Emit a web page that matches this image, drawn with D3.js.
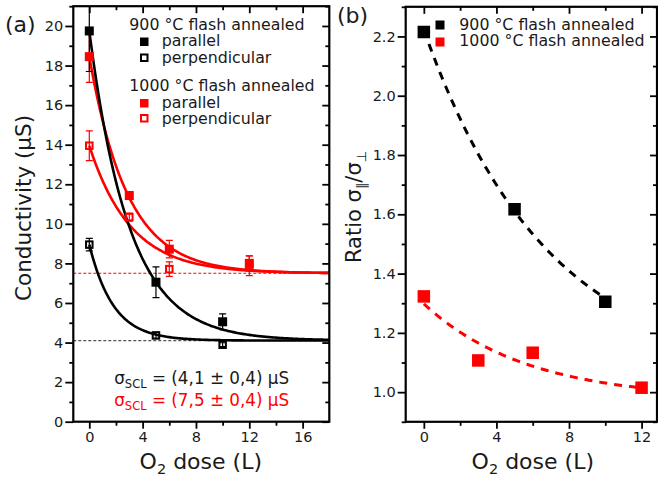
<!DOCTYPE html>
<html><head><meta charset="utf-8">
<script src="https://cdn.jsdelivr.net/npm/d3@7"></script>
<style>
body{margin:0;background:#fff}
svg{display:block}
text{font-family:"DejaVu Sans",sans-serif}
</style>
</head><body>
<svg id="c" width="658" height="480"></svg>
<script>
// ---------- data (panel a) ----------
const dose900 = [0, 5, 10];
const par900 = [19.75, 7.05, 5.05];
const par900Err = [2.05, 0.78, 0.4];
const perp900 = [8.95, 4.36, 3.89];
const perp900Err = [0.32, 0.15, 0.1];
const dose1000 = [0, 3, 6, 12];
const par1000 = [18.45, 11.43, 8.72, 8.0];
const par1000Err = [1.3, 0.2, 0.44, 0.38];
const perp1000 = [13.95, 10.34, 7.71, 7.88];
const perp1000Err = [0.75, 0.2, 0.37, 0.5];
const sigmaSCL = [4.1, 7.5];
// exponential fit decay constants (L): sigma = sigmaSCL + (sigma0 - sigmaSCL) exp(-dose/tau)
const tauFit = [3.0, 1.8, 2.85, 3.1]; // par900, perp900, par1000, perp1000
// ---------- data (panel b) ----------
const ratio900 = [2.215, 1.617, 1.305];
const ratio1000 = [1.323, 1.107, 1.133, 1.015];
// ratio fits: [offset, amplitude, tau]
const ratioFit900 = [1.047, 1.175, 6.8];
const ratioFit1000 = [0.975, 0.323, 5.7];
// ---------- ticks ----------
const aYMajor = [0,2,4,6,8,10,12,14,16,18,20];
const aYMinor = [1,3,5,7,9,11,13,15,17,19,21];
const aXMajor = [0,4,8,12,16];
const aXMinor = [2,6,10,14];
const bYMajor = [1.0,1.2,1.4,1.6,1.8,2.0,2.2];
const bYMinor = [0.9,1.1,1.3,1.5,1.7,1.9,2.1,2.3];
const bXMajor = [0,4,8,12];
const bXMinor = [2,6,10];

const RED = "#ff0000", BLK = "#000000";
const svg = d3.select("#c");

function frameAxes(g, x, y, xMaj, xMin, yMaj, yMin, yFmt) {
  const [x0, x1] = x.range(), [y0, y1] = y.range();
  const st = sel => { sel.select(".domain").remove(); sel.selectAll("line").attr("stroke","#000").attr("stroke-width",1.8);
    sel.selectAll("text").attr("font-size",14.5).attr("fill","#1a1a1a").attr("font-family","DejaVu Sans"); };
  g.append("g").attr("transform",`translate(0,${y0})`).call(d3.axisBottom(x).tickValues(xMaj).tickSize(7).tickPadding(3).tickFormat(d3.format("d"))).call(st);
  g.append("g").attr("transform",`translate(0,${y0})`).call(d3.axisBottom(x).tickValues(xMin).tickSize(4).tickFormat("")).call(st);
  g.append("g").attr("transform",`translate(0,${y1})`).call(d3.axisTop(x).tickValues(xMaj).tickSize(-7).tickFormat("")).call(st);
  g.append("g").attr("transform",`translate(0,${y1})`).call(d3.axisTop(x).tickValues(xMin).tickSize(-4).tickFormat("")).call(st);
  g.append("g").attr("transform",`translate(${x0},0)`).call(d3.axisLeft(y).tickValues(yMaj).tickSize(8).tickPadding(2).tickFormat(yFmt)).call(st);
  g.append("g").attr("transform",`translate(${x0},0)`).call(d3.axisLeft(y).tickValues(yMin).tickSize(4).tickFormat("")).call(st);
  g.append("g").attr("transform",`translate(${x1},0)`).call(d3.axisRight(y).tickValues(yMaj).tickSize(-7).tickFormat("")).call(st);
  g.append("g").attr("transform",`translate(${x1},0)`).call(d3.axisRight(y).tickValues(yMin).tickSize(-4).tickFormat("")).call(st);
  g.append("rect").attr("x",x0).attr("y",y1).attr("width",x1-x0).attr("height",y0-y1)
    .attr("fill","none").attr("stroke","#000").attr("stroke-width",2.2);
}

// ================= panel a =================
const xa = d3.scaleLinear().domain([-1.2, 18]).range([73.3, 329.3]);
const ya = d3.scaleLinear().domain([0, 21]).range([421.7, 6.2]);
const ga = svg.append("g");
svg.append("clipPath").attr("id","clipA").append("rect")
  .attr("x",73.3).attr("y",6.2).attr("width",256).attr("height",415.5);
const pa = ga.append("g").attr("clip-path","url(#clipA)");

// sigma_SCL reference lines
pa.append("line").attr("x1",xa(-1.2)).attr("x2",xa(18)).attr("y1",ya(sigmaSCL[0])).attr("y2",ya(sigmaSCL[0]))
  .attr("stroke","#555").attr("stroke-width",1.3).attr("stroke-dasharray","3,2");
pa.append("line").attr("x1",xa(-1.2)).attr("x2",xa(18)).attr("y1",ya(sigmaSCL[1])).attr("y2",ya(sigmaSCL[1]))
  .attr("stroke",RED).attr("stroke-width",1.1).attr("stroke-dasharray","3,2");

const fitX = d3.range(0, 18.01, 0.1);
const fitLine = d3.line().x(d=>xa(d[0])).y(d=>ya(d[1]));
function drawFit(s0, scl, tau, col) {
  pa.append("path").attr("d", fitLine(fitX.map(x=>[x, scl + (s0-scl)*Math.exp(-x/tau)])))
    .attr("fill","none").attr("stroke",col).attr("stroke-width",2.6);
}
drawFit(par1000[0], sigmaSCL[1], tauFit[2], RED);
drawFit(perp1000[0], sigmaSCL[1], tauFit[3], RED);
drawFit(par900[0], sigmaSCL[0], tauFit[0], BLK);
drawFit(perp900[0], sigmaSCL[0], tauFit[1], BLK);

function errBars(xs, ys, es, col) {
  xs.forEach((d,i)=>{
    const cx = xa(d), yt = ya(ys[i]+es[i]), yb = ya(ys[i]-es[i]);
    pa.append("line").attr("x1",cx).attr("x2",cx).attr("y1",yt).attr("y2",yb).attr("stroke",col).attr("stroke-width",1.2);
    [yt,yb].forEach(yy=>pa.append("line").attr("x1",cx-3.5).attr("x2",cx+3.5).attr("y1",yy).attr("y2",yy).attr("stroke",col).attr("stroke-width",1.2));
  });
}
function squares(g, xs, ys, xs_, ys_, col, filled, size) {
  xs.forEach((d,i)=>{
    if (filled) g.append("rect").attr("x",xs_(d)-size/2).attr("y",ys_(ys[i])-size/2).attr("width",size).attr("height",size).attr("fill",col);
    else g.append("rect").attr("x",xs_(d)-size/2+1).attr("y",ys_(ys[i])-size/2+1).attr("width",size-2).attr("height",size-2)
      .attr("fill","none").attr("stroke",col).attr("stroke-width",2);
  });
}
errBars(dose1000, perp1000, perp1000Err, RED);
errBars(dose1000, par1000, par1000Err, RED);
errBars(dose900, perp900, perp900Err, BLK);
errBars(dose900, par900, par900Err, BLK);
squares(pa, dose1000, perp1000, xa, ya, RED, false, 8.5);
squares(pa, dose1000, par1000, xa, ya, RED, true, 9);
squares(pa, dose900, perp900, xa, ya, BLK, false, 8.5);
squares(pa, dose900, par900, xa, ya, BLK, true, 9);

frameAxes(ga, xa, ya, aXMajor, aXMinor, aYMajor, aYMinor, d3.format("d"));

// legend a
const lg = ga.append("g").attr("font-size",15.8).attr("fill","#1a1a1a");
lg.append("text").attr("x",129.3).attr("y",29.5).text("900 °C flash annealed");
lg.append("rect").attr("x",140).attr("y",37.5).attr("width",8.5).attr("height",8.5).attr("fill",BLK);
lg.append("text").attr("x",161.7).attr("y",46).text("parallel");
lg.append("rect").attr("x",141).attr("y",54.5).attr("width",6.5).attr("height",6.5).attr("fill","none").attr("stroke",BLK).attr("stroke-width",2);
lg.append("text").attr("x",161.7).attr("y",62.5).text("perpendicular");
lg.append("text").attr("x",129.3).attr("y",90.5).text("1000 °C flash annealed");
lg.append("rect").attr("x",140).attr("y",99).attr("width",8.5).attr("height",8.5).attr("fill",RED);
lg.append("text").attr("x",161.7).attr("y",107.5).text("parallel");
lg.append("rect").attr("x",141).attr("y",115).attr("width",6.5).attr("height",6.5).attr("fill","none").attr("stroke",RED).attr("stroke-width",2);
lg.append("text").attr("x",161.7).attr("y",124).text("perpendicular");

// sigma_SCL annotations
function sclText(yb, val, col) {
  const t = ga.append("text").attr("x",201.7).attr("y",yb).attr("text-anchor","middle").attr("font-size",16.8).attr("fill",col);
  t.append("tspan").text("σ");
  t.append("tspan").attr("font-size",11.5).attr("dy",4).text("SCL");
  t.append("tspan").attr("dy",-4).text(` = (${val}) µS`);
}
sclText(384, "4,1 ± 0,4", "#1a1a1a");
sclText(406, "7,5 ± 0,4", RED);

// axis titles a
ga.append("text").attr("transform","translate(31,208) rotate(-90)").attr("text-anchor","middle").attr("font-size",21.5).attr("fill","#1a1a1a").text("Conductivity (µS)");
const xt = ga.append("text").attr("x",200.8).attr("y",468.5).attr("text-anchor","middle").attr("font-size",22).attr("fill","#1a1a1a");
xt.append("tspan").text("O");
xt.append("tspan").attr("font-size",14.5).attr("dy",5).text("2");
xt.append("tspan").attr("dy",-5).text(" dose (L)");
ga.append("text").attr("x",5).attr("y",32).attr("font-size",22).attr("fill","#1a1a1a").text("(a)");

// ================= panel b =================
const xb = d3.scaleLinear().domain([-1, 12.85]).range([405.7, 657]);
const yb = d3.scaleLinear().domain([0.9, 2.3]).range([421.8, 6.8]);
const gb = svg.append("g");
const pb = gb.append("g");
const dashLine = d3.line().x(d=>xb(d[0])).y(d=>yb(d[1]));
function ratioFit(p, xmax, col) {
  const xs = d3.range(0, xmax+0.001, 0.1);
  pb.append("path").attr("d", dashLine(xs.map(x=>[x, p[0] + p[1]*Math.exp(-x/p[2])])))
    .attr("fill","none").attr("stroke",col).attr("stroke-width",3).attr("stroke-dasharray","8,7");
}
ratioFit(ratioFit900, 10, BLK);
ratioFit(ratioFit1000, 12, RED);
squares(pb, dose900, ratio900, xb, yb, BLK, true, 12.5);
squares(pb, dose1000, ratio1000, xb, yb, RED, true, 12.5);

frameAxes(gb, xb, yb, bXMajor, bXMinor, bYMajor, bYMinor, d3.format(".1f"));

const lb = gb.append("g").attr("font-size",15.8).attr("fill","#1a1a1a");
lb.append("rect").attr("x",435.5).attr("y",20.5).attr("width",9).attr("height",9).attr("fill",BLK);
lb.append("text").attr("x",459.3).attr("y",29.5).text("900 °C flash annealed");
lb.append("rect").attr("x",435.5).attr("y",37.5).attr("width",9).attr("height",9).attr("fill",RED);
lb.append("text").attr("x",459.3).attr("y",46).text("1000 °C flash annealed");

const yt2 = gb.append("text").attr("transform","translate(361,207) rotate(-90)").attr("text-anchor","middle").attr("font-size",21).attr("fill","#1a1a1a");
yt2.append("tspan").text("Ratio σ");
yt2.append("tspan").attr("font-size",13).attr("dy",5).text("∥");
yt2.append("tspan").attr("dy",-5).text("/σ");
yt2.append("tspan").attr("font-size",13).attr("dy",5).text("⊥");
const xt2 = gb.append("text").attr("x",532.8).attr("y",468.5).attr("text-anchor","middle").attr("font-size",22).attr("fill","#1a1a1a");
xt2.append("tspan").text("O");
xt2.append("tspan").attr("font-size",14.5).attr("dy",5).text("2");
xt2.append("tspan").attr("dy",-5).text(" dose (L)");
gb.append("text").attr("x",337).attr("y",23).attr("font-size",22).attr("fill","#1a1a1a").text("(b)");
</script>
</body></html>
